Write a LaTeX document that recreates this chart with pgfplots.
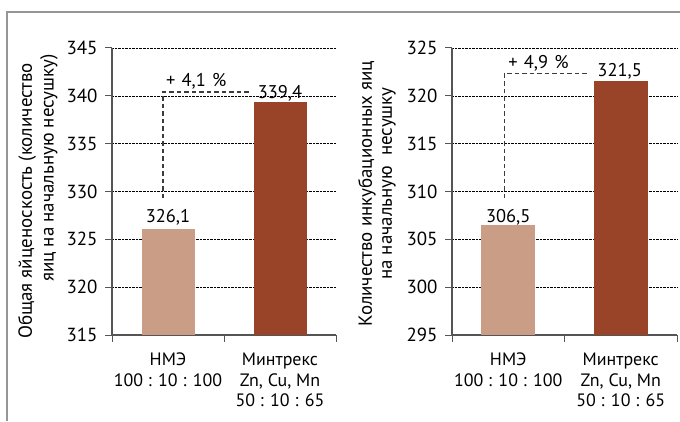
\documentclass[border=0pt]{standalone}
\usepackage{fontspec}
\setmainfont{PT Sans}
\usepackage{pgfplots}
\pgfplotsset{compat=1.18}

\definecolor{barA}{RGB}{201,157,134}
\definecolor{barB}{RGB}{153,67,41}
\definecolor{axgray}{RGB}{85,85,85}
\definecolor{dashgray}{RGB}{60,60,60}
\definecolor{framegray}{RGB}{150,150,150}

\newcommand{\tf}{\fontsize{19}{20}\selectfont}
\newcommand{\vf}{\fontsize{18.5}{20}\selectfont}
\newcommand{\cf}{\fontsize{18}{20}\selectfont}
\newcommand{\pf}{\fontsize{18.5}{20}\selectfont}
\newcommand{\lf}{\fontsize{19}{22}\selectfont}

\pgfplotsset{
 mystyle/.style={
  scale only axis, height=287bp, anchor=south west,
  xmin=-0.5, xmax=1.5,
  axis lines=left, axis line style={-, draw=axgray, line width=1.5bp},
  ymajorgrids, grid style={densely dotted, black, line width=0.6bp},
  ytick distance=5,
  tick align=outside, major tick length=7bp,
  tick style={draw=axgray, line width=1bp},
  xtick={-0.5,0.5,1.5}, xticklabels={},
  extra x ticks={0,1},
  extra x tick labels={{НМЭ\\[1bp]100 : 10 : 100},{Минтрекс\\[1bp]Zn, Cu, Mn\\[1bp]50 : 10 : 65}},
  extra x tick style={major tick length=0pt, xticklabel style={align=center, font=\cf, anchor=north, yshift=-14bp}},
  /pgf/number format/assume math mode=true,
  yticklabel style={font=\tf, xshift=-4bp},
  clip=true,
 }
}

\begin{document}
\begin{tikzpicture}[x=1bp,y=1bp]
\useasboundingbox (0,0) rectangle (680,421);
\draw[framegray, line width=2bp] (7,0) -- (7,409) -- (680,409);

% y labels
\node[rotate=90, font=\lf] at (27,220) {Общая яйценоскость (количество};
\node[rotate=90, font=\lf] at (49,253) {яиц на начальную несушку)};
\node[rotate=90, font=\lf] at (367,227.5) {Количество инкубационных яиц};
\node[rotate=90, font=\lf] at (389,237.5) {на начальную\ \ несушку};

\begin{axis}[mystyle, width=224bp, at={(112bp,86bp)}, ymin=315, ymax=345]
\addplot[ybar, bar width=53bp, bar shift=0pt, fill=barA, draw=none] coordinates {(0,326.1)};
\addplot[ybar, bar width=53bp, bar shift=0pt, fill=barB, draw=none] coordinates {(1,339.4)};
\draw[draw=dashgray, line width=1.3bp, dash pattern=on 4.5bp off 3bp] (axis cs:-0.045,329.3) -- (axis cs:-0.045,340.4) -- (axis cs:0.73,340.4);
\node[font=\pf, anchor=west, inner sep=0pt] at (axis cs:-0.018,341.5) {+\,\,4,1\,\,\%};
\node[font=\vf, inner sep=0pt] at (axis cs:0,327.3) {326,1};
\node[font=\vf, inner sep=0pt] at (axis cs:1,340.3) {339,4};
\end{axis}

\begin{axis}[mystyle, width=225bp, at={(452bp,86bp)}, ymin=295, ymax=325]
\addplot[ybar, bar width=54bp, bar shift=0pt, fill=barA, draw=none] coordinates {(0,306.5)};
\addplot[ybar, bar width=54bp, bar shift=0pt, fill=barB, draw=none] coordinates {(1,321.5)};
\draw[draw=dashgray, line width=1.3bp, dash pattern=on 4.5bp off 3bp] (axis cs:-0.036,309.3) -- (axis cs:-0.036,322.3) -- (axis cs:0.72,322.3);
\node[font=\pf, anchor=west, inner sep=0pt] at (axis cs:0,323.4) {+\,\,4,9\,\,\%};
\node[font=\vf, inner sep=0pt] at (axis cs:0,307.3) {306,5};
\node[font=\vf, inner sep=0pt] at (axis cs:0.99,322.6) {321,5};
\end{axis}
\end{tikzpicture}
\end{document}
